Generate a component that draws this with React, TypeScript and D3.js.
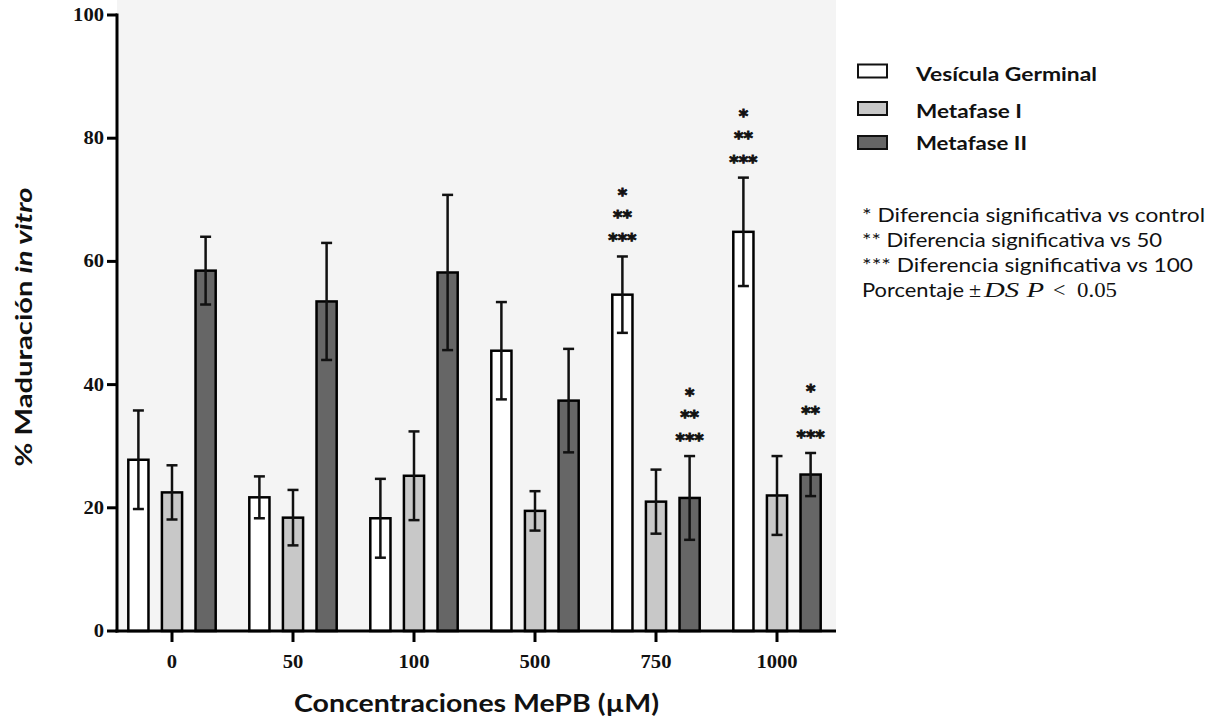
import React from 'react';
import * as d3 from 'd3';

// concentraciones (µM)
const categories = ['0', '50', '100', '500', '750', '1000'];
const series = ['Vesícula Germinal', 'Metafase I', 'Metafase II'];

// porcentaje medio y desviación estándar
const vgMean = [27.8, 21.7, 18.3, 45.5, 54.6, 64.8];
const vgSd = [8.0, 3.4, 6.4, 7.9, 6.2, 8.8];
const m1Mean = [22.5, 18.4, 25.2, 19.5, 21.0, 22.0];
const m1Sd = [4.4, 4.5, 7.2, 3.2, 5.2, 6.4];
const m2Mean = [58.5, 53.5, 58.2, 37.4, 21.6, 25.4];
const m2Sd = [5.5, 9.5, 12.6, 8.4, 6.8, 3.5];

const yTicks = [0, 20, 40, 60, 80, 100];

// barras marcadas con significancia
const sigMarks = [
  { cat: '750', s: 'Vesícula Germinal' },
  { cat: '750', s: 'Metafase II' },
  { cat: '1000', s: 'Vesícula Germinal' },
  { cat: '1000', s: 'Metafase II' },
];
const sigLabels = ['*', '**', '***'];

const notes = [
  '* Diferencia significativa vs control',
  '** Diferencia significativa vs 50',
  '*** Diferencia significativa vs 100',
];

const colors = ['#ffffff', '#c8c8c8', '#666666'];

const App = () => {
  const width = 1215;
  const height = 721;
  const left = 117;
  const right = 836;
  const top = 15;
  const bottom = 631;

  const x0 = d3.scaleBand().domain(categories).range([111.5, 837.5]).padding(0);
  const x1 = d3
    .scaleBand()
    .domain(series)
    .range([0, x0.bandwidth()])
    .paddingInner(0.4)
    .paddingOuter(0.5);
  const y = d3.scaleLinear().domain([0, 100]).range([bottom, top]);
  const color = d3.scaleOrdinal<string>().domain(series).range(colors);

  const means = [vgMean, m1Mean, m2Mean];
  const sds = [vgSd, m1Sd, m2Sd];

  const rows = series.flatMap((s, si) =>
    categories.map((c, ci) => ({ s, c, mean: means[si][ci], sd: sds[si][ci] }))
  );

  const barCx = (c: string, s: string) => (x0(c) || 0) + (x1(s) || 0) + x1.bandwidth() / 2;
  const sans = 'Lato, "Open Sans", sans-serif';
  const serif = '"Liberation Serif", "Times New Roman", serif';

  return (
    <svg
      width={width}
      height={height}
      style={{ position: 'absolute', left: 0, top: 0, background: '#fff' }}
    >
      <rect x={left} y={0} width={right - left} height={bottom} fill="#f4f4f4" />

      {/* barras */}
      {rows.map((d, i) => (
        <rect
          key={'b' + i}
          x={(x0(d.c) || 0) + (x1(d.s) || 0)}
          y={y(d.mean)}
          width={x1.bandwidth()}
          height={bottom - y(d.mean)}
          fill={color(d.s)}
          stroke="#000"
          strokeWidth={2.5}
        />
      ))}

      {/* barras de error */}
      {rows.map((d, i) => {
        const cx = barCx(d.c, d.s);
        const y1 = y(d.mean + d.sd);
        const y2 = y(d.mean - d.sd);
        return (
          <g key={'e' + i} stroke="#111" strokeWidth={2.5}>
            <line x1={cx} x2={cx} y1={y1} y2={y2} />
            <line x1={cx - 5.5} x2={cx + 5.5} y1={y1} y2={y1} />
            <line x1={cx - 5.5} x2={cx + 5.5} y1={y2} y2={y2} />
          </g>
        );
      })}

      {/* asteriscos */}
      {sigMarks.map((m, i) => {
        const si = series.indexOf(m.s);
        const ci = categories.indexOf(m.cat);
        const errTop = y(means[si][ci] + sds[si][ci]);
        const cx = barCx(m.cat, m.s);
        const offs = [-66.5, -44.5, -21];
        return sigLabels.map((t, k) => (
          <text
            key={'s' + i + k}
            x={cx}
            y={errTop + offs[k] + 11}
            textAnchor="middle"
            fontFamily='"DejaVu Sans", sans-serif'
            fontWeight="bold"
            fontSize={18}
            stroke="#111"
            strokeWidth={0.9}
            fill="#111"
          >
            {t}
          </text>
        ));
      })}

      {/* eje y */}
      <line x1={left} x2={left} y1={top - 1.5} y2={bottom + 1.5} stroke="#000" strokeWidth={3} />
      {yTicks.map((t) => (
        <g key={'yt' + t}>
          <line x1={left - 10} x2={left} y1={y(t)} y2={y(t)} stroke="#000" strokeWidth={3} />
          <text
            x={104}
            y={y(t) + 6}
            textAnchor="end"
            fontFamily={serif}
            fontWeight="bold"
            fontSize={18}
            textLength={String(t).length * 10.3}
            lengthAdjust="spacingAndGlyphs"
            fill="#111"
          >
            {t}
          </text>
        </g>
      ))}

      {/* eje x */}
      <line x1={left - 1.5} x2={right} y1={bottom} y2={bottom} stroke="#000" strokeWidth={3} />
      {categories.map((c) => {
        const cx = (x0(c) || 0) + x0.bandwidth() / 2;
        return (
          <g key={'xt' + c}>
            <line x1={cx} x2={cx} y1={bottom} y2={bottom + 11} stroke="#000" strokeWidth={3} />
            <text
              x={cx}
              y={668}
              textAnchor="middle"
              fontFamily={serif}
              fontWeight="bold"
              fontSize={18}
              textLength={c.length * 10.3}
              lengthAdjust="spacingAndGlyphs"
              fill="#111"
            >
              {c}
            </text>
          </g>
        );
      })}

      {/* títulos de ejes */}
      <text
        transform="translate(32,327) rotate(-90)"
        textAnchor="middle"
        fontFamily={sans}
        fontWeight="bold"
        fontSize={22}
        textLength={279}
        lengthAdjust="spacingAndGlyphs"
        fill="#111"
      >
        % Maduración <tspan fontStyle="italic">in vitro</tspan>
      </text>
      <text
        x={(left + right) / 2}
        y={712}
        textAnchor="middle"
        fontFamily={sans}
        fontWeight="bold"
        fontSize={24}
        textLength={365}
        lengthAdjust="spacingAndGlyphs"
        fill="#111"
      >
        Concentraciones MePB (µM)
      </text>

      {/* leyenda */}
      {series.map((s, i) => {
        const cy = [71, 108.5, 142.5][i];
        const baselines = [81, 118, 150];
        const lens = [181, 106, 111];
        return (
          <g key={'lg' + s}>
            <rect x={858} y={cy - 6.5} width={29} height={13} fill={color(s)} stroke="#111" strokeWidth={2} />
            <text
              x={916}
              y={baselines[i]}
              fontFamily={sans}
              fontWeight="bold"
              fontSize={18.5}
              textLength={lens[i]}
              lengthAdjust="spacingAndGlyphs"
              fill="#111"
            >
              {s}
            </text>
          </g>
        );
      })}

      {/* notas */}
      {notes.map((n, i) => (
        <text
          key={'n' + i}
          x={862}
          y={222 + i * 25}
          fontFamily={sans}
          fontSize={20}
          textLength={[343, 300, 331][i]}
          lengthAdjust="spacingAndGlyphs"
          fill="#111"
        >
          {n}
        </text>
      ))}
      <text y={297} fontFamily={sans} fontSize={20} fill="#111">
        <tspan x={862} textLength={102} lengthAdjust="spacingAndGlyphs">Porcentaje</tspan>
        <tspan x={969} fontFamily={serif} fontSize={22}>±</tspan>
        <tspan x={984} fontFamily={serif} fontSize={22} fontStyle="italic" textLength={60} lengthAdjust="spacingAndGlyphs">DS P</tspan>
        <tspan x={1053} fontFamily={serif} fontSize={22}>{'<'}</tspan>
        <tspan x={1077} fontFamily={serif} fontSize={22} textLength={40} lengthAdjust="spacingAndGlyphs">0.05</tspan>
      </text>
    </svg>
  );
};

export default App;
